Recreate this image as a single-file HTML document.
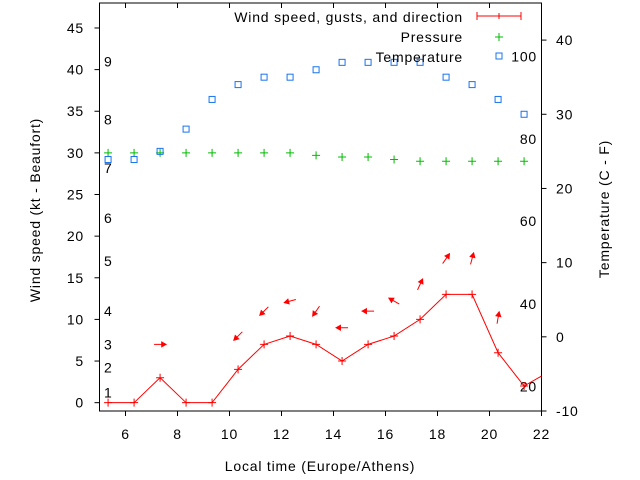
<!DOCTYPE html>
<html><head><meta charset="utf-8"><style>
body{margin:0;background:#fff}
svg{display:block;font-family:"Liberation Sans",sans-serif;font-size:14px;letter-spacing:0.8px}
</style></head><body>
<svg id="c" width="640" height="480" xmlns="http://www.w3.org/2000/svg">
<text x="40" y="210" transform="rotate(-90 40 210)" text-anchor="middle">Wind speed (kt - Beaufort)</text>
<text x="609" y="209" transform="rotate(-90 609 209)" text-anchor="middle">Temperature (C - F)</text>
<text x="320" y="471" text-anchor="middle">Local time (Europe/Athens)</text>
<g id="g"></g>
</svg>
<script>
const hours=[5.33,6.33,7.33,8.33,9.33,10.33,11.33,12.33,13.33,14.33,15.33,16.33,17.33,18.33,19.33,20.33,21.33,22];
const wind=[0,0,3,0,0,4,7,8,7,5,7,8,10,13,13,6,2,3.2];
const pressure=[30,30,30,30,30,30,30,30,29.7,29.5,29.5,29.2,29,29,29,29,29];
const temperature=[23.9,23.9,25,28,32,34,35,35,36,37,37,37,37,35,34,32,30];
const arrowHours=[7.33,10.33,11.33,12.33,13.33,14.33,15.33,16.33,17.33,18.33,19.33,20.33];
const arrowLevels=[7,8,11,12.2,11,9,11,12.2,14.2,17.3,17.3,10.2];
const arrowDirs=[0,225,225,195,235,180,180,150,65,55,75,80];
const xTicks=[6,8,10,12,14,16,18,20,22];
const yTicks=[0,5,10,15,20,25,30,35,40,45];
const y2Ticks=[-10,0,10,20,30,40];
const bftLabels=["1","2","3","4","5","6","7","8","9"];
const bftLevels=[1.2,4.2,7,11,17,22.2,28.2,34,41];
const fLabels=["20","40","60","80","100"];
const fValues=[-6.7,4.4,15.6,26.7,37.8];

const L=99.5,R=541.5,T=3,B=411;
const X=v=>L+(v-5)*(R-L)/17;
const Y=v=>B-(v+1)*(B-T)/49;
const Y2=v=>B-(v+10)*(B-T)/55;
const g=document.getElementById('g');
const ns="http://www.w3.org/2000/svg";
function el(t,a){const e=document.createElementNS(ns,t);for(const k in a)e.setAttribute(k,a[k]);g.appendChild(e);return e;}
function txt(x,y,s,anchor){const e=el('text',{x:x,y:y,'text-anchor':anchor,fill:'#000'});e.textContent=s;return e;}

let f=el('rect',{x:L,y:T,width:R-L,height:B-T,fill:'none',stroke:'#000','stroke-width':1});


xTicks.forEach(v=>{
 let t=el('line',{x1:X(v),x2:X(v),y1:B,y2:B+5,stroke:'#000'});
 
 
 el('line',{x1:X(v),x2:X(v),y1:T,y2:T+5,stroke:'#000'});
 let l=txt(X(v),439,String(v),'middle');
 
 
});
yTicks.forEach(v=>{
 let t=el('line',{x1:L-5,x2:L,y1:Y(v),y2:Y(v),stroke:'#000'});
 
 
 let l=txt(84,Y(v)+5,String(v),'end');
 
 
});
y2Ticks.forEach(v=>{
 let t=el('line',{x1:R,x2:R+5,y1:Y2(v),y2:Y2(v),stroke:'#000'});
 
 
 let l=txt(556,Y2(v)+5,String(v),'start');
 
 
});
bftLabels.forEach((s,i)=>{
 let l=txt(104,Y(bftLevels[i])+5,s,'start');
 
 
});
fLabels.forEach((s,i)=>{
 let l=txt(537,Y2(fValues[i])+5,s,'end');
 
 
});
let pl=el('polyline',{points:hours.map((h,i)=>X(h)+','+Y(wind[i])).join(' '),fill:'none',stroke:'#f00','stroke-width':1});


hours.forEach((h,i)=>{if(h>21.5)return;
 let p=el('path',{d:`M${X(h)-4},${Y(wind[i])}h8M${X(h)},${Y(wind[i])-4}v8`,stroke:'#f00'});
 
 
});
pressure.forEach((v,i)=>{
 let p=el('path',{d:`M${X(hours[i])-4},${Y(v)}h8M${X(hours[i])},${Y(v)-4}v8`,stroke:'#0b0'});
 
 
});
temperature.forEach((v,i)=>{
 let p=el('rect',{x:X(hours[i])-3,y:Y2(v)-3,width:6,height:6,fill:'none',stroke:'#1874ee'});
 
 
});
arrowHours.forEach((h,i)=>{
 const a=arrowDirs[i]*Math.PI/180,cx=X(h),cy=Y(arrowLevels[i]);
 const dx=Math.cos(a)*6,dy=-Math.sin(a)*6;
 const hx=cx+dx,hy=cy+dy;
 const b1=a+Math.PI-0.5,b2=a+Math.PI+0.5;
 let p=el('path',{d:`M${cx-dx},${cy-dy}L${hx},${hy}M${hx},${hy}L${hx+Math.cos(b1)*5},${hy-Math.sin(b1)*5}L${hx+Math.cos(b2)*5},${hy-Math.sin(b2)*5}Z`,stroke:'#f00',fill:'#f00','stroke-width':1});
 
 
});
let l1=txt(463,22,'Wind speed, gusts, and direction','end');


el('path',{d:'M477,16h44M477,12v8M521,12v8M499,13v6',stroke:'#f00'});
let l2=txt(463,42,'Pressure','end');


el('path',{d:'M495,37h8M499,33v8',stroke:'#0b0'});
let l3=txt(463,62,'Temperature','end');


el('rect',{x:496,y:53,width:6,height:6,fill:'none',stroke:'#1874ee'});
</script>
</body></html>
